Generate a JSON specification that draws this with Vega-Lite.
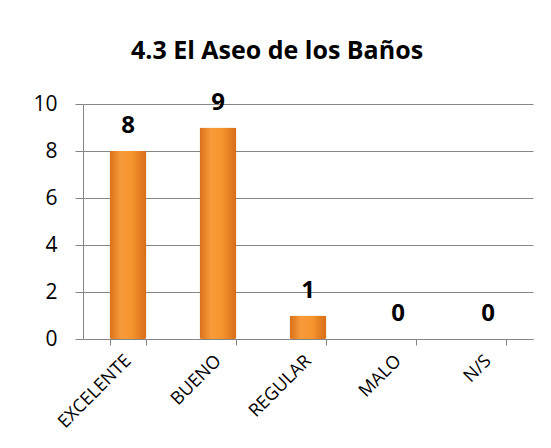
{
  "$schema": "https://vega.github.io/schema/vega-lite/v6.json",
  "autosize": "none",
  "width": 450,
  "height": 235,
  "padding": {"left": 83, "top": 104, "right": 18, "bottom": 109},
  "background": "white",
  "title": {
    "text": "4.3 El Aseo de los Baños",
    "font": "Open Sans",
    "fontSize": 25,
    "fontWeight": "bold",
    "color": "#000000",
    "anchor": "middle",
    "frame": "group",
    "baseline": "alphabetic",
    "dx": -31,
    "offset": 7
  },
  "data": {
    "values": [
      {"categoria": "EXCELENTE", "valor": 8},
      {"categoria": "BUENO", "valor": 9},
      {"categoria": "REGULAR", "valor": 1},
      {"categoria": "MALO", "valor": 0},
      {"categoria": "N/S", "valor": 0}
    ]
  },
  "encoding": {
    "x": {
      "field": "categoria",
      "type": "nominal",
      "sort": null,
      "scale": {"paddingInner": 0.59, "paddingOuter": 0.295},
      "axis": {
        "title": null,
        "labelAngle": -45,
        "labelAlign": "right",
        "labelBaseline": "middle",
        "labelFont": "Open Sans",
        "labelFontSize": 18,
        "labelColor": "#000000",
        "labelPadding": 13,
        "domainColor": "#868686",
        "tickColor": "#868686",
        "tickSize": 6,
        "tickBand": "extent",
        "grid": false
      }
    },
    "y": {
      "field": "valor",
      "type": "quantitative",
      "scale": {"domain": [0, 10]},
      "axis": {
        "title": null,
        "values": [0, 2, 4, 6, 8, 10],
        "labelFont": "Open Sans",
        "labelFontSize": 21,
        "labelColor": "#000000",
        "labelPadding": 18,
        "tickSize": 8,
        "tickColor": "#868686",
        "domainColor": "#868686",
        "gridColor": "#868686",
        "gridWidth": 1
      }
    }
  },
  "layer": [
    {
      "mark": {
        "type": "bar",
        "color": {
          "gradient": "linear",
          "x1": 0, "x2": 1, "y1": 0, "y2": 0,
          "stops": [
            {"offset": 0, "color": "#D9701A"},
            {"offset": 0.3, "color": "#F79A3A"},
            {"offset": 0.6, "color": "#F7962F"},
            {"offset": 1, "color": "#D66C18"}
          ]
        },
        "cornerRadius": 2
      }
    },
    {
      "mark": {
        "type": "text",
        "font": "Open Sans",
        "fontSize": 24,
        "fontWeight": "bold",
        "color": "#000000",
        "baseline": "middle",
        "dy": -25
      },
      "encoding": {"text": {"field": "valor", "type": "quantitative"}}
    }
  ],
  "config": {"view": {"stroke": null}}
}
